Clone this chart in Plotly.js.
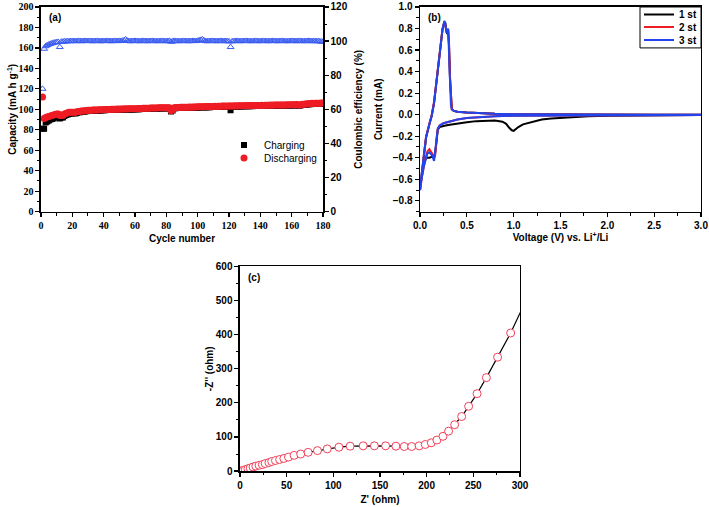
<!DOCTYPE html>
<html><head><meta charset="utf-8">
<script src="https://cdn.plot.ly/plotly-3.0.1.min.js"></script>
<style>html,body{margin:0;padding:0;background:#fff;}#chart{width:709px;height:507px;}</style>
</head><body><div id="chart"></div>
<script>
// ---- Panel (a): cycling data ----
const cycles = Array.from({length:180}, (_, i) => i + 1);
const chargeCap = [81,81,87,88,89,90,90.5,91,92,92.5,
92.5,91,92,92,93.5,94.5,95,95.5,96,96,
96.3,96,96.5,97,97.2,97.5,97.6,97.8,98,98.3,
98.4,98.5,98.6,98.7,98.6,98.8,98.9,98.9,99,99,
99.1,99.2,99.2,99.3,99.4,99.4,99.4,99.5,99.6,99.5,
99.6,99.7,99.6,99.8,99.7,99.8,99.9,99.9,99.8,100,
100,100.1,100,100.2,100.3,100.4,100.4,100.5,100.4,100.6,
100.6,100.7,100.6,100.7,100.8,100.8,100.9,100.9,100.8,101,
101,100.9,97.8,98.8,100.9,101.1,101.2,101.2,101.3,101.4,
101.4,101.4,101.5,101.5,101.6,101.5,101.6,101.7,101.6,101.8,
101.8,101.9,101.9,101.8,102,102,102.1,102,102.2,102.2,
102.3,102.2,102.4,102.4,102.3,102.5,102.5,102.4,102.6,102.6,
99,102.6,102.7,102.8,102.7,102.8,102.9,102.8,102.9,102.9,
103,102.9,103,103.1,103,103.1,103.2,103.1,103.2,103.2,
103.3,103.2,103.4,103.3,103.4,103.4,103.5,103.4,103.5,103.6,
103.5,103.6,103.7,103.6,103.7,103.7,103.8,103.7,103.8,103.9,
103.8,103.9,104,103.9,103.4,104,104.2,104.4,104.6,104.7,
104.9,105,105.2,105.1,105.3,105.4,105.2,105.4,105.5,105.6];
const dischargeCap = [112,91,92,92.5,93,93.5,94,94.5,95,95.5,
95.5,94,94.5,94,95.5,96,96.5,97,97,97,
97.2,97,97.5,97.8,98,98.2,98.3,98.5,98.7,99,
99,99.1,99.2,99.3,99.2,99.4,99.5,99.5,99.6,99.6,
99.7,99.8,99.8,99.9,100,100,100,100.1,100.2,100.1,
100.2,100.3,100.2,100.4,100.3,100.4,100.5,100.5,100.4,100.6,
100.6,100.7,100.6,100.8,100.9,101,101,101.1,101,101.2,
101.2,101.3,101.2,101.3,101.4,101.4,101.5,101.5,101.4,101.6,
101.6,101.5,98.5,99.5,101.5,101.7,101.8,101.8,101.9,102,
102,102,102.1,102.1,102.2,102.1,102.2,102.3,102.2,102.4,
102.4,102.5,102.5,102.4,102.6,102.6,102.7,102.6,102.8,102.8,
102.9,102.8,103,103,102.9,103.1,103.1,103,103.2,103.2,
103.3,103.2,103.3,103.4,103.3,103.4,103.5,103.4,103.5,103.5,
103.6,103.5,103.6,103.7,103.6,103.7,103.8,103.7,103.8,103.8,
103.9,103.8,104,103.9,104,104,104.1,104,104.1,104.2,
104.1,104.2,104.3,104.2,104.3,104.3,104.4,104.3,104.4,104.5,
104.4,104.5,104.6,104.5,104,104.6,104.8,105,105.2,105.3,
105.5,105.6,105.8,105.7,105.9,106,105.8,106,106.1,106.2];
const coulombEff = [72,95.5,97,97.6,98,98.4,98.7,99,99.2,99.4,
99.5,96.5,99.6,99.7,99.8,99.8,99.9,99.9,100,100,
100,99.9,100,100.1,100,99.9,100,100.1,100,100,
100.1,100,99.9,100,100,100.1,100,99.9,100,100,
100,100.1,100,100,99.9,100,100.1,100,100,100.1,
100,100.2,100.4,101,100.2,100,99.9,100,100,100.1,
100,100,99.9,100,100.1,100,100,99.9,100,100,
100.1,100,100,99.9,100,100,100.1,100,99.9,100,
100,100.1,99.6,99.8,100.1,100,100,99.9,100,100,
100.1,100,100,99.9,100,100,100.1,100,100,100.2,
100.4,100.7,101,100.4,100,99.9,100,100,100.1,100,
100,99.9,100,100,100.1,100,99.9,100,100,99.8,
96.5,99.8,100,100,100.1,100,99.9,100,100,100,
100.1,100,100,99.9,100,100,100.1,100,99.9,100,
100,100.1,100,100,99.9,100,100,100.1,100,100,
99.9,100,100,100.1,100,100,99.9,100,100,100.1,
100,100,99.9,100,100.1,100,100,99.9,100,100,
100.1,100,99.9,100,100,99.9,100,99.8,99.7,99.6];

// ---- Panel (b): cyclic voltammetry ----
const cv1V = [3.0,2.5,2.0,1.8,1.6,1.5,1.4,1.3,1.2,1.15,1.1,1.05,1.02,1.0,0.98,0.95,0.92,0.88,0.8,0.7,0.6,0.5,0.4,0.3,0.25,0.21,0.19,0.18,0.17,0.16,0.15,0.13,0.1,0.07,0.05,0.03,0.01,0.0,
0.02,0.04,0.065,0.1,0.125,0.15,0.185,0.21,0.24,0.26,0.27,0.28,0.29,0.3,0.31,0.32,0.33,0.34,0.36,0.4,0.5,0.6,0.8,1.0,1.5,2.0,2.5,3.0];
const cv1I = [-0.003,-0.005,-0.01,-0.015,-0.022,-0.028,-0.035,-0.045,-0.065,-0.08,-0.09,-0.115,-0.14,-0.15,-0.145,-0.12,-0.085,-0.065,-0.055,-0.055,-0.06,-0.07,-0.08,-0.095,-0.105,-0.115,-0.14,-0.2,-0.3,-0.37,-0.38,-0.39,-0.40,-0.40,-0.42,-0.5,-0.62,-0.7,
-0.53,-0.39,-0.21,-0.09,-0.01,0.11,0.39,0.59,0.79,0.86,0.85,0.78,0.75,0.79,0.64,0.34,0.1,0.05,0.035,0.028,0.02,0.014,0.008,0.004,0.001,0,0,0];
const cv2V = [3.0,2.5,2.0,1.5,1.0,0.8,0.6,0.5,0.4,0.3,0.25,0.21,0.19,0.18,0.17,0.16,0.15,0.13,0.1,0.08,0.06,0.04,0.02,0.0,
0.02,0.04,0.065,0.1,0.125,0.15,0.185,0.21,0.24,0.26,0.27,0.28,0.29,0.3,0.31,0.32,0.33,0.34,0.36,0.4,0.5,0.6,0.8,1.0,1.5,2.0,2.5,3.0];
const cv2I = [-0.002,-0.003,-0.004,-0.006,-0.01,-0.015,-0.025,-0.032,-0.045,-0.065,-0.08,-0.1,-0.13,-0.2,-0.3,-0.39,-0.4,-0.36,-0.32,-0.34,-0.4,-0.48,-0.58,-0.7,
-0.52,-0.38,-0.2,-0.08,0,0.12,0.4,0.6,0.8,0.86,0.84,0.78,0.77,0.79,0.66,0.36,0.11,0.05,0.035,0.028,0.02,0.014,0.008,0.004,0.001,0,0,0];
const cv3V = [3.0,2.5,2.0,1.5,1.0,0.8,0.6,0.5,0.4,0.3,0.25,0.21,0.19,0.18,0.17,0.16,0.15,0.13,0.1,0.08,0.06,0.04,0.02,0.0,
0.02,0.04,0.065,0.1,0.125,0.15,0.185,0.21,0.24,0.26,0.27,0.28,0.29,0.3,0.31,0.32,0.33,0.34,0.36,0.4,0.5,0.6,0.8,1.0,1.5,2.0,2.5,3.0];
const cv3I = [-0.002,-0.003,-0.004,-0.006,-0.01,-0.015,-0.025,-0.032,-0.045,-0.065,-0.08,-0.1,-0.13,-0.2,-0.3,-0.4,-0.43,-0.38,-0.35,-0.36,-0.41,-0.48,-0.58,-0.7,
-0.53,-0.39,-0.21,-0.09,-0.01,0.11,0.39,0.59,0.79,0.87,0.85,0.77,0.76,0.8,0.62,0.32,0.09,0.05,0.035,0.028,0.02,0.014,0.008,0.004,0.001,0,0,0];
const cvLabels = ['1 st','2 st','3 st'];

// ---- Panel (c): Nyquist plot ----
const zReal = [2,3.5,5.7,8.5,11,14,17,20.5,24,27,31,34,38,42.5,47,52,58,65,73,83,93.5,106,118,132,144,156,167,176,184,192,198.5,205,211,217.5,223.5,230,237.5,245,254,264,276,290];
const zImag = [1,2,4,7,9,12,14.5,17,19,22,25,28,31,34,37,41,46,50,55,60,65,70,73,74,74,74,73,72,72,74,78,83,91,102,117,136,160,190,227,274,334,405];
const fitReal = zReal.concat([305]);
const fitImag = zImag.concat([492]);

const F = 'Liberation Sans, Arial, sans-serif';
const FS = 'Liberation Serif, Times New Roman, serif';
function mn(d){ return {dtick:d, ticks:'outside', ticklen:2.5, tickwidth:1, tickcolor:'#000'}; }
function ax(extra, fam){
  return Object.assign({
    showline:true, linecolor:'#000', linewidth:1.5, mirror:true,
    ticks:'outside', ticklen:4, tickwidth:1.2, tickcolor:'#000',
    showgrid:false, zeroline:false, automargin:false, fixedrange:true,
    tickfont:{family:fam || F, size:10, color:'#000', weight:'bold'}
  }, extra);
}
function ttl(t, s){ return {text:t, font:{family:F, size:10, color:'#000', weight:'bold'}, standoff:s}; }
const px = v => v / 709, py = v => 1 - v / 507;

const traces = [
  {x:cycles, y:chargeCap, xaxis:'x', yaxis:'y', type:'scatter', mode:'markers', name:'Charging', legend:'legend2',
   marker:{symbol:'square', size:6, color:'#000'}},
  {x:cycles, y:dischargeCap, xaxis:'x', yaxis:'y', type:'scatter', mode:'markers', name:'Discharging', legend:'legend3',
   marker:{symbol:'circle', size:7, color:'#ee1c24'}},
  {x:cycles, y:coulombEff, xaxis:'x', yaxis:'y2', type:'scatter', mode:'markers', name:'Coulombic efficiency', showlegend:false,
   marker:{symbol:'triangle-up-open', size:6, color:'#3a5cf0', line:{width:1}}},
  {x:cv1V, y:cv1I, xaxis:'x2', yaxis:'y3', type:'scatter', mode:'lines', name:cvLabels[0], legend:'legend',
   line:{color:'#000', width:2}},
  {x:cv2V, y:cv2I, xaxis:'x2', yaxis:'y3', type:'scatter', mode:'lines', name:cvLabels[1], legend:'legend4',
   line:{color:'#ee1c24', width:2}},
  {x:cv3V, y:cv3I, xaxis:'x2', yaxis:'y3', type:'scatter', mode:'lines', name:cvLabels[2], legend:'legend5',
   line:{color:'#2244ee', width:2}},
  {x:fitReal, y:fitImag, xaxis:'x3', yaxis:'y4', type:'scatter', mode:'lines', showlegend:false,
   line:{color:'#000', width:1.2}},
  {x:zReal, y:zImag, xaxis:'x3', yaxis:'y4', type:'scatter', mode:'markers', showlegend:false,
   marker:{symbol:'circle', size:8, color:'#fff', line:{color:'#f0405a', width:1}}}
];

const legA = (y) => ({x:px(224), y:py(y), xanchor:'left', yanchor:'middle', bgcolor:'rgba(0,0,0,0)', borderwidth:0,
    font:{family:F, size:10, color:'#000'}, itemwidth:30, tracegroupgap:0});
const legB = (y) => ({x:px(639), y:py(y), xanchor:'left', yanchor:'middle', bgcolor:'rgba(0,0,0,0)', borderwidth:0,
    font:{family:F, size:10, color:'#000', weight:'bold'}, itemwidth:30, tracegroupgap:0});

const layout = {
  width:709, height:507, margin:{l:0,r:0,t:0,b:0},
  paper_bgcolor:'#fff', plot_bgcolor:'rgba(0,0,0,0)',
  font:{family:F, size:10, color:'#000'},
  xaxis: ax({domain:[0.0578,0.4556], anchor:'y', range:[0,180], dtick:20, minor:mn(10),
    title:ttl('Cycle number', 5)}, FS),
  yaxis: ax({domain:[0.5838,0.9882], anchor:'x', range:[0,200], dtick:20, minor:mn(10),
    title:ttl('Capacity (mA h g<sup>-1</sup>)', 0)}, FS),
  yaxis2: ax({overlaying:'y', anchor:'x', side:'right', mirror:false, range:[0,120], dtick:20, minor:mn(10),
    title:ttl('Coulombic efficiency (%)', 8)}),
  xaxis2: ax({domain:[0.5924,0.9887], anchor:'y3', range:[0,3], dtick:0.5, tickformat:'.1f', minor:mn(0.25),
    title:ttl('Voltage (V) vs. Li<sup>+</sup>/Li', 4)}),
  yaxis3: ax({domain:[0.5838,0.9882], anchor:'x2', range:[-0.9,1.0], tick0:0, dtick:0.2, tickformat:'.1f', minor:mn(0.1),
    title:ttl('Current (mA)', 8)}),
  xaxis3: ax({domain:[0.3385,0.7334], anchor:'y4', range:[0,300], dtick:50, minor:mn(25),
    title:ttl("Z' (ohm)", 6)}),
  yaxis4: ax({domain:[0.0710,0.4753], anchor:'x3', range:[0,600], dtick:100, minor:mn(50),
    title:ttl("-Z'' (ohm)", 0)}),
  legend: legB(14), legend4: legB(27), legend5: legB(40),
  legend2: legA(145), legend3: legA(158),
  shapes:[
    {type:'rect', xref:'paper', yref:'paper', x0:px(640), x1:px(701), y0:py(47), y1:py(6), line:{color:'#000', width:1}, fillcolor:'rgba(0,0,0,0)', layer:'below'}
  ],
  annotations:[
    {text:'(a)', xref:'x domain', yref:'y domain', x:0.02, y:0.985, xanchor:'left', yanchor:'top', showarrow:false, font:{family:F,size:10,weight:'bold'}},
    {text:'(b)', xref:'x2 domain', yref:'y3 domain', x:0.02, y:0.985, xanchor:'left', yanchor:'top', showarrow:false, font:{family:F,size:10,weight:'bold'}},
    {text:'(c)', xref:'x3 domain', yref:'y4 domain', x:0.02, y:0.985, xanchor:'left', yanchor:'top', showarrow:false, font:{family:F,size:10,weight:'bold'}}
  ]
};
Plotly.newPlot('chart', traces, layout, {staticPlot:true, displayModeBar:false});
</script></body></html>
